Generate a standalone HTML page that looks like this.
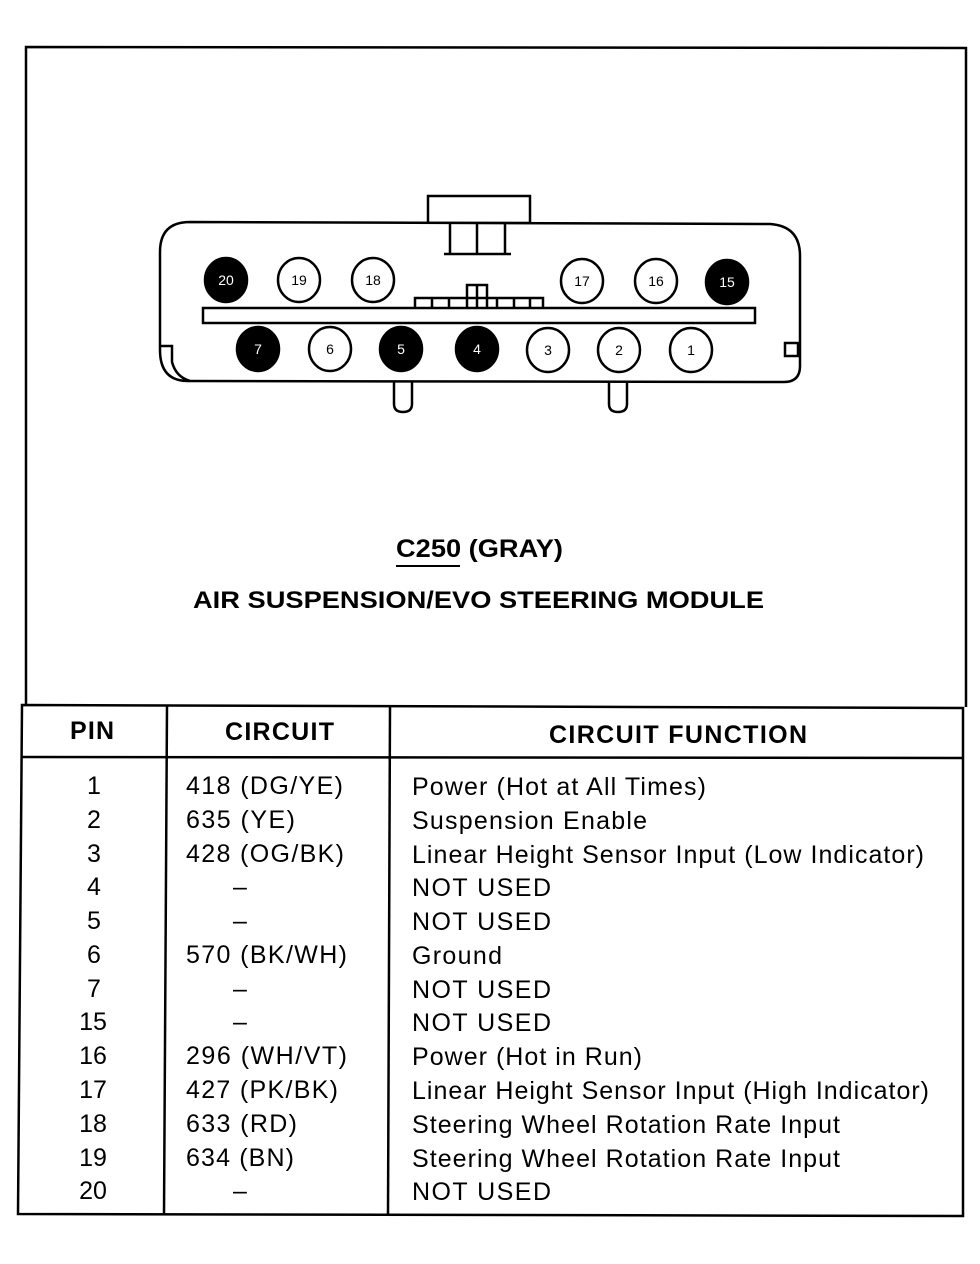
<!DOCTYPE html>
<html><head><style>
html,body{margin:0;padding:0;background:#fff;}
svg{display:block;}
text{font-family:"Liberation Sans",Arial,sans-serif;fill:#000;}
</style></head><body>
<svg width="980" height="1264" viewBox="0 0 980 1264" xmlns="http://www.w3.org/2000/svg">
<g fill="none" stroke="#000" stroke-width="2.5">
<polyline points="26,706 26,47 966,48 966,707"/>
<polygon points="22,705 963,708 963,1216 18,1214"/>
<line x1="22" y1="757" x2="963" y2="758"/>
<line x1="167" y1="706" x2="164" y2="1214"/>
<line x1="390" y1="707" x2="388" y2="1215"/>
<rect x="428" y="196" width="102" height="27" fill="#fff"/>
<path d="M190,222 L770,224 Q800,226 800,256 L800,366 Q800,382 784,382 L188,381 Q160,381 160,350 L160,252 Q160,222 190,222 Z" fill="#fff"/>
<path d="M450,224 V254 M477,224 V254 M505,224 V254 M444,254 H511"/>
<rect x="203" y="308" width="552" height="15"/>
<path d="M415,308 V298 H543 V308 M432,298 V308 M449,298 V308 M467,308 V285 H487 V308 M477,285 V308 M497,298 V308 M514,298 V308 M530,298 V308"/>
<path d="M160,346 H172 V362 Q176,377 190,381"/>
<rect x="785" y="343" width="13" height="13"/>
<path d="M394,382 V404 Q394,412 403,412 Q412,412 412,404 V382"/>
<path d="M609,382 V404 Q609,412 618,412 Q627,412 627,404 V382"/>
</g>
<g stroke="#000" stroke-width="2.5">
<ellipse cx="226" cy="280" rx="21" ry="22" fill="#000"/>
<ellipse cx="299" cy="280" rx="21" ry="22" fill="#fff"/>
<ellipse cx="373" cy="280" rx="21" ry="22" fill="#fff"/>
<ellipse cx="582" cy="281" rx="21" ry="22" fill="#fff"/>
<ellipse cx="656" cy="281" rx="21" ry="22" fill="#fff"/>
<ellipse cx="727" cy="282" rx="21" ry="22" fill="#000"/>
<ellipse cx="258" cy="349" rx="21" ry="22" fill="#000"/>
<ellipse cx="330" cy="349" rx="21" ry="22" fill="#fff"/>
<ellipse cx="401" cy="349" rx="21" ry="22" fill="#000"/>
<ellipse cx="477" cy="349" rx="21" ry="22" fill="#000"/>
<ellipse cx="548" cy="350" rx="21" ry="22" fill="#fff"/>
<ellipse cx="619" cy="350" rx="21" ry="22" fill="#fff"/>
<ellipse cx="691" cy="350" rx="21" ry="22" fill="#fff"/>
</g>
<g font-size="14" text-anchor="middle">
<text x="226" y="285" style="fill:#fff">20</text>
<text x="299" y="285">19</text>
<text x="373" y="285">18</text>
<text x="582" y="286">17</text>
<text x="656" y="286">16</text>
<text x="727" y="287" style="fill:#fff">15</text>
<text x="258" y="354" style="fill:#fff">7</text>
<text x="330" y="354">6</text>
<text x="401" y="354" style="fill:#fff">5</text>
<text x="477" y="354" style="fill:#fff">4</text>
<text x="548" y="355">3</text>
<text x="619" y="355">2</text>
<text x="691" y="355">1</text>
</g>
<text x="396" y="557" font-size="25" font-weight="bold" textLength="167" lengthAdjust="spacingAndGlyphs">C250 (GRAY)</text>
<line x1="396" y1="566" x2="460" y2="566" stroke="#000" stroke-width="2"/>
<text x="193" y="608" font-size="24" font-weight="bold" textLength="571" lengthAdjust="spacingAndGlyphs">AIR SUSPENSION/EVO STEERING MODULE</text>
<g font-size="25" font-weight="bold" lengthAdjust="spacingAndGlyphs">
<text x="70" y="739" textLength="44">PIN</text>
<text x="225" y="740" textLength="109">CIRCUIT</text>
<text x="549" y="743" textLength="258">CIRCUIT FUNCTION</text>
</g>
<g font-size="25">
<g text-anchor="middle">
<text x="94" y="794">1</text><text x="94" y="828">2</text><text x="94" y="862">3</text><text x="94" y="895">4</text><text x="94" y="929">5</text><text x="94" y="963">6</text><text x="94" y="997">7</text><text x="93" y="1030">15</text><text x="93" y="1064">16</text><text x="93" y="1098">17</text><text x="93" y="1132">18</text><text x="93" y="1166">19</text><text x="93" y="1199">20</text>
</g>
<g lengthAdjust="spacingAndGlyphs">
<text x="186" y="794" textLength="157">418 (DG/YE)</text>
<text x="186" y="828" textLength="109">635 (YE)</text>
<text x="186" y="862" textLength="158">428 (OG/BK)</text>
<text x="233" y="895">–</text>
<text x="233" y="929">–</text>
<text x="186" y="963" textLength="161">570 (BK/WH)</text>
<text x="233" y="997">–</text>
<text x="233" y="1030">–</text>
<text x="186" y="1064" textLength="161">296 (WH/VT)</text>
<text x="186" y="1098" textLength="152">427 (PK/BK)</text>
<text x="186" y="1132" textLength="111">633 (RD)</text>
<text x="186" y="1166" textLength="108">634 (BN)</text>
<text x="233" y="1199">–</text>
<text x="412" y="795" textLength="294">Power (Hot at All Times)</text>
<text x="412" y="829" textLength="235">Suspension Enable</text>
<text x="412" y="863" textLength="512">Linear Height Sensor Input (Low Indicator)</text>
<text x="412" y="896" textLength="139">NOT USED</text>
<text x="412" y="930" textLength="139">NOT USED</text>
<text x="412" y="964" textLength="90">Ground</text>
<text x="412" y="998" textLength="139">NOT USED</text>
<text x="412" y="1031" textLength="139">NOT USED</text>
<text x="412" y="1065" textLength="230">Power (Hot in Run)</text>
<text x="412" y="1099" textLength="517">Linear Height Sensor Input (High Indicator)</text>
<text x="412" y="1133" textLength="428">Steering Wheel Rotation Rate Input</text>
<text x="412" y="1167" textLength="428">Steering Wheel Rotation Rate Input</text>
<text x="412" y="1200" textLength="139">NOT USED</text>
</g>
</g>
</svg>
</body></html>
